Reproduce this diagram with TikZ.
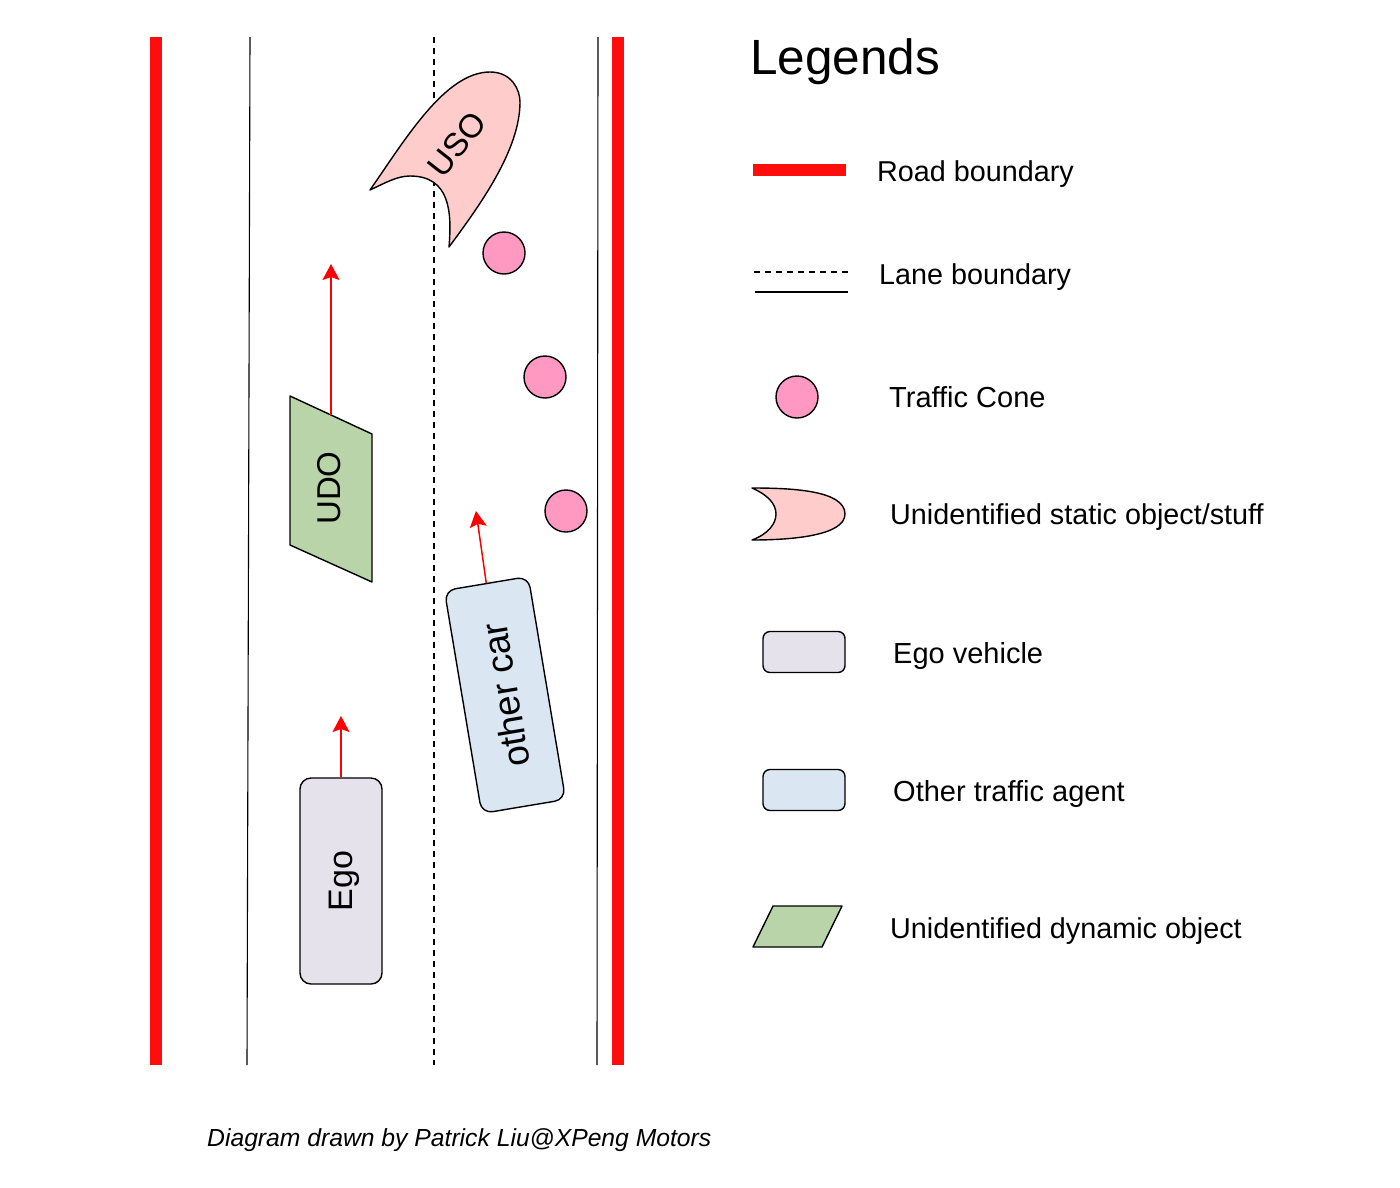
\documentclass[tikz,border=0pt]{standalone}
\usepackage{fontspec}
\setmainfont{Liberation Sans}
\usetikzlibrary{arrows.meta}
\definecolor{roadred}{HTML}{FF0D0D}
\definecolor{usofill}{HTML}{FFCCCC}
\definecolor{conefill}{HTML}{FF99C2}
\definecolor{egofill}{HTML}{E6E2EC}
\definecolor{otherfill}{HTML}{DAE6F2}
\definecolor{udofill}{HTML}{B9D4A8}
\tikzset{
 x=1pt,y=-1pt,
 road/.style={draw=roadred,line width=12pt},
 lane/.style={draw=black,line width=1.1pt},
 lanedash/.style={draw=black,line width=1.4pt,dash pattern=on 5.5pt off 5.5pt},
 outline/.style={draw=black,line width=1.4pt,line join=round},
 cone/.style={outline,circle,fill=conefill,minimum size=42pt,inner sep=0pt},
 heading/.style={draw=red,line width=1.5pt,-{Stealth[length=16pt,width=17pt,inset=3pt]}},
 car/.style={outline,rounded corners=11pt,minimum width=206pt,minimum height=82pt,inner sep=0pt,font=\fontsize{34}{34}\selectfont},
 legbox/.style={outline,rounded corners=7pt,minimum width=82pt,minimum height=41pt,inner sep=0pt},
 leg/.style={anchor=west,inner sep=0pt,font=\fontsize{28.75}{33}\selectfont},
 legb/.style={leg,font=\fontsize{29}{33}\selectfont},
 shapetext/.style={inner sep=0pt,font=\fontsize{33}{33}\selectfont},
}
\begin{document}
\begin{tikzpicture}
\useasboundingbox (0,0) rectangle (1400,1187);
% road
\coordinate (rl1) at (156,37); \coordinate (rl2) at (156,1065);
\coordinate (rr1) at (618,37); \coordinate (rr2) at (618,1065);
\coordinate (sl1) at (250,37); \coordinate (sl2) at (247,1065);
\coordinate (sr1) at (598,37); \coordinate (sr2) at (597,1065);
\coordinate (dm1) at (434,37); \coordinate (dm2) at (434,1065);
\draw[road] (rl1) -- (rl2);
\draw[road] (rr1) -- (rr2);
\draw[lane] (sl1) -- (sl2);
\draw[lane] (sr1) -- (sr2);
\draw[lanedash] (dm1) -- (dm2);
% USO
\draw[outline,fill=usofill] (370,190) .. controls (405,140) and (445,72) .. (490,72)
  .. controls (512,72) and (520,90) .. (520,102)
  .. controls (520,150) and (480,205) .. (449,247)
  .. controls (452,212) and (450,176) .. (410,176)
  .. controls (397,176) and (385,183) .. (370,190) -- cycle;
\node[shapetext,rotate=52] (uso) at (457,144) {USO};
% cones
\node[cone] (c1) at (504,253) {};
\node[cone] (c2) at (545,377) {};
\node[cone] (c3) at (566,511) {};
% UDO
\draw[outline,fill=udofill] (290,396) -- (372,434) -- (372,582) -- (290,545) -- cycle;
\node[shapetext,rotate=90] (udo) at (329,488) {UDO};
\coordinate (udotop) at (331,415);
\coordinate (udohead) at (331,264);
\draw[heading] (udotop) -- (udohead);
% other car
\node[car,fill=otherfill,rotate=99.5,minimum width=226pt,minimum height=85pt,font=\fontsize{37}{37}\selectfont] (other) at (505,695) {other car};
\coordinate (otherhead) at (476,511);
\draw[heading] (other.east) -- (otherhead);
% ego
\node[car,fill=egofill,rotate=90,text depth=0pt] (ego) at (341,881) {Ego};
\coordinate (egohead) at (341,716);
\draw[heading] (ego.east) -- (egohead);
% legends
\node[anchor=west,inner sep=0pt,font=\fontsize{49.5}{50}\selectfont] (title) at (750,62) {Legends};
\coordinate (lr1) at (753,170); \coordinate (lr2) at (846,170);
\draw[road] (lr1) -- (lr2);
\node[leg] (t1) at (877,174) {Road boundary};
\coordinate (ld1) at (754,272); \coordinate (ld2) at (848,272);
\coordinate (ls1) at (755,292); \coordinate (ls2) at (848,292);
\draw[lanedash,line width=1.2pt] (ld1) -- (ld2);
\draw[lane] (ls1) -- (ls2);
\node[leg] (t2) at (879,277) {Lane boundary};
\node[cone] (lc) at (797,397) {};
\node[legb] (t3) at (889,397) {Traffic Cone};
\draw[outline,fill=usofill] (752,488) .. controls (790,488) and (845,490) .. (845,514)
  .. controls (845,536) and (790,540) .. (752,540)
  .. controls (768,534) and (776,524) .. (776,514)
  .. controls (776,504) and (768,495) .. (752,488) -- cycle;
\node[leg] (t4) at (890,517) {Unidentified static object/stuff};
\node[legbox,fill=egofill] (le) at (804,652) {};
\node[legb] (t5) at (893,656) {Ego vehicle};
\node[legbox,fill=otherfill] (lo) at (804,790) {};
\node[legb] (t6) at (893,794) {Other traffic agent};
\draw[outline,fill=udofill] (753,947) -- (773,906) -- (842,906) -- (822,947) -- cycle;
\node[leg] (t7) at (890,931) {Unidentified dynamic object};
\node[anchor=west,inner sep=0pt,font=\fontsize{24.7}{30}\selectfont\itshape] (cap) at (207,1140) {Diagram drawn by Patrick Liu@XPeng Motors};
\end{tikzpicture}
\end{document}
